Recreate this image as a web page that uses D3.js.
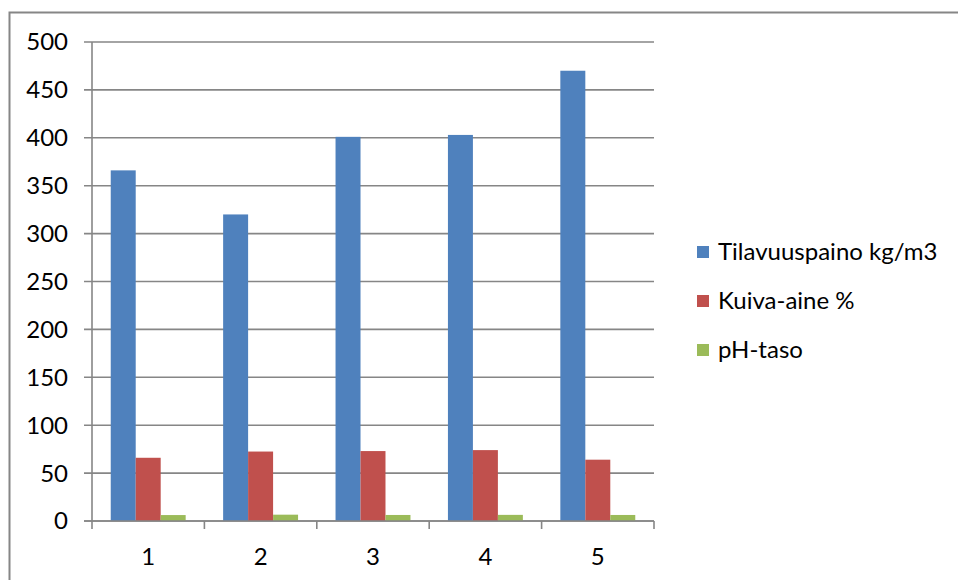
<!DOCTYPE html>
<html>
<head>
<meta charset="utf-8">
<script src="https://cdn.jsdelivr.net/npm/d3@7"></script>
<style>
  html, body { margin: 0; padding: 0; background: #fff; }
  svg { display: block; font-family: Lato, "Open Sans", sans-serif; }
</style>
</head>
<body>
<svg id="chart" width="958" height="580"></svg>
<script>
// Sample numbers (1–5) along the x axis
const categories = ["1", "2", "3", "4", "5"];

// Measured values per sample
const tilavuuspaino = [366, 320, 401, 403, 470];   // kg/m3
const kuivaAine     = [66, 72.5, 73, 74, 64];       // %
const phTaso        = [6.2, 6.6, 6.3, 6.4, 6.3];

const seriesNames  = ["Tilavuuspaino kg/m3", "Kuiva-aine %", "pH-taso"];
const seriesColors = ["#4F81BD", "#C0504D", "#9BBB59"];
const yTicks = [0, 50, 100, 150, 200, 250, 300, 350, 400, 450, 500];

const seriesValues = [tilavuuspaino, kuivaAine, phTaso];

const svg = d3.select("#chart");

// Outer chart frame (runs off the right and bottom edges)
svg.append("rect")
  .attr("x", 9.5).attr("y", 12.5)
  .attr("width", 1000).attr("height", 1000)
  .attr("fill", "none")
  .attr("stroke", "#868686")
  .attr("stroke-width", 2);

const plot = { left: 92, right: 654, top: 42, bottom: 521 };

const x = d3.scaleBand()
  .domain(categories)
  .range([plot.left, plot.right])
  .paddingInner(0)
  .paddingOuter(0);

const y = d3.scaleLinear()
  .domain([0, 500])
  .range([plot.bottom, plot.top]);

// Three bars side by side inside each category, 150% gap between groups
const inner = d3.scaleBand()
  .domain(seriesNames)
  .range([0, x.bandwidth()])
  .paddingOuter(0.75)
  .paddingInner(0);

// Horizontal gridlines
svg.append("g")
  .selectAll("line")
  .data(yTicks)
  .join("line")
  .attr("x1", plot.left - 8)
  .attr("x2", plot.right)
  .attr("y1", d => y(d))
  .attr("y2", d => y(d))
  .attr("stroke", "#868686")
  .attr("stroke-width", 1.6);

// Bars
const groups = svg.append("g")
  .selectAll("g")
  .data(categories)
  .join("g")
  .attr("transform", d => `translate(${x(d)},0)`);

groups.selectAll("rect")
  .data((d, i) => seriesNames.map((s, k) => ({ s, k, v: seriesValues[k][i] })))
  .join("rect")
  .attr("x", d => inner(d.s))
  .attr("width", inner.bandwidth())
  .attr("y", d => y(d.v))
  .attr("height", d => y(0) - y(d.v))
  .attr("fill", d => seriesColors[d.k]);

// Y axis line
svg.append("line")
  .attr("x1", plot.left).attr("x2", plot.left)
  .attr("y1", plot.top).attr("y2", plot.bottom)
  .attr("stroke", "#868686").attr("stroke-width", 1.6);

// X axis line and category boundary ticks
svg.append("line")
  .attr("x1", plot.left - 8).attr("x2", plot.right)
  .attr("y1", plot.bottom).attr("y2", plot.bottom)
  .attr("stroke", "#868686").attr("stroke-width", 1.6);

const boundaries = categories.map(c => x(c)).concat([plot.right]);
svg.append("g")
  .selectAll("line")
  .data(boundaries)
  .join("line")
  .attr("x1", d => d).attr("x2", d => d)
  .attr("y1", plot.bottom).attr("y2", plot.bottom + 8)
  .attr("stroke", "#868686").attr("stroke-width", 1.6);

// Y tick labels
svg.append("g")
  .selectAll("text")
  .data(yTicks)
  .join("text")
  .attr("x", 68)
  .attr("y", d => y(d))
  .attr("dy", "0.35em")
  .attr("text-anchor", "end")
  .attr("font-size", 24)
  .attr("fill", "#000")
  .text(d => d);

// X tick labels
svg.append("g")
  .selectAll("text")
  .data(categories)
  .join("text")
  .attr("x", d => x(d) + x.bandwidth() / 2)
  .attr("y", 557)
  .attr("dy", "0.35em")
  .attr("text-anchor", "middle")
  .attr("font-size", 24)
  .attr("fill", "#000")
  .text(d => d);

// Legend
const legend = svg.append("g")
  .selectAll("g")
  .data(seriesNames)
  .join("g")
  .attr("transform", (d, i) => `translate(697, ${252 + i * 49})`);

legend.append("rect")
  .attr("x", 0).attr("y", -6)
  .attr("width", 12).attr("height", 12)
  .attr("fill", (d, i) => seriesColors[i]);

legend.append("text")
  .attr("x", 21)
  .attr("y", 0)
  .attr("dy", "0.35em")
  .attr("font-size", 24)
  .attr("fill", "#000")
  .text(d => d);
</script>
</body>
</html>
